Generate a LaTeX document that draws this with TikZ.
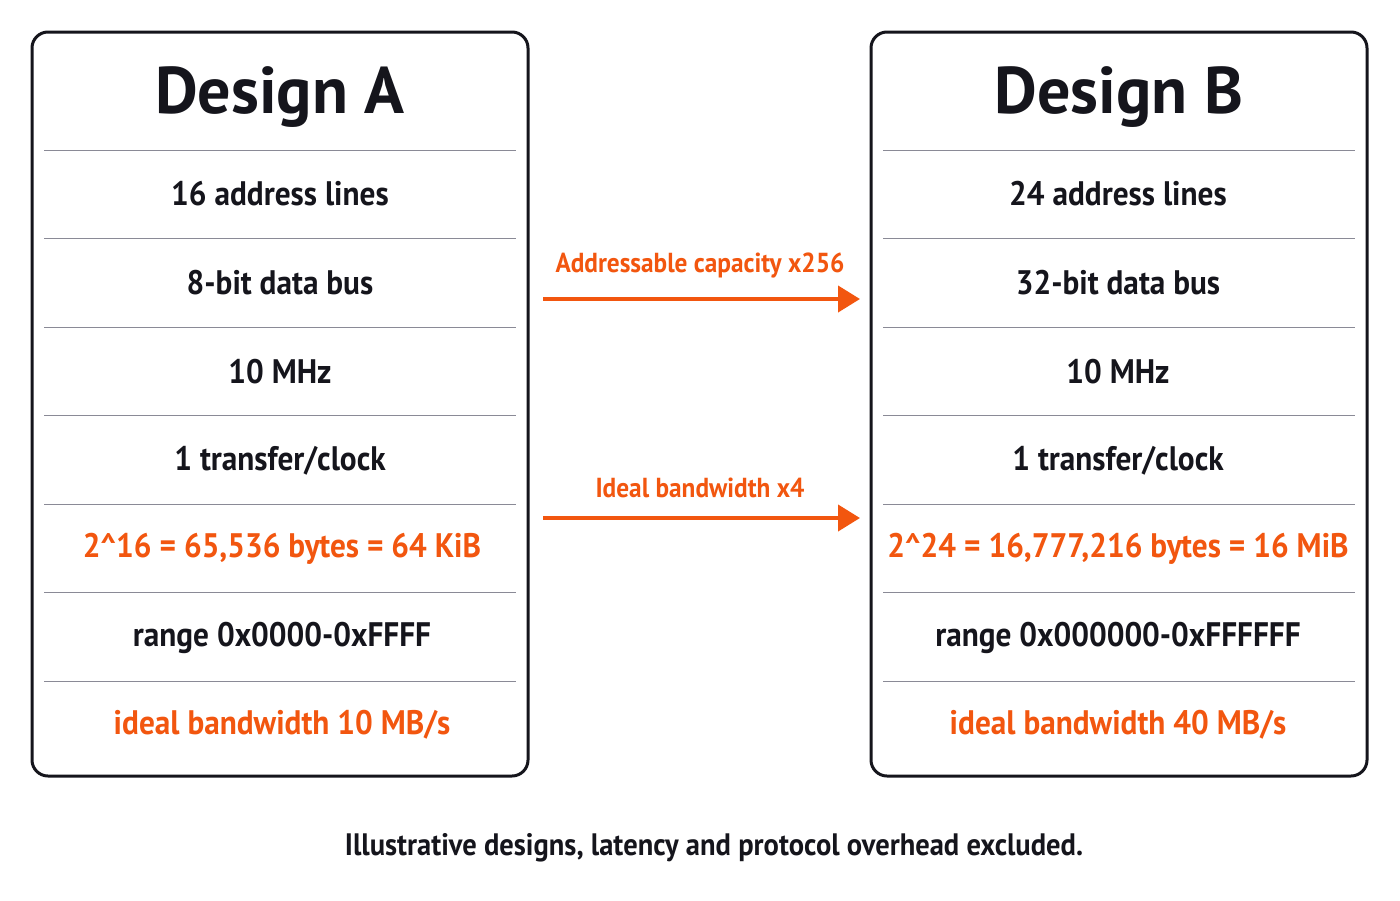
\documentclass[tikz,border=0pt]{standalone}
\usepackage{fontspec}
\setmainfont{PT Sans}
\newfontfamily\cnd{PT Sans}[FakeStretch=0.92]
\usetikzlibrary{arrows.meta}
\definecolor{org}{HTML}{F2560F}
\definecolor{sep}{HTML}{8A8A96}
\definecolor{ink}{HTML}{15151C}
\begin{document}
\begin{tikzpicture}[x=1pt,y=-1pt,
  box/.style={draw=ink,line width=3pt,rounded corners=16pt},
  title/.style={font=\fontsize{66}{70}\selectfont\bfseries,text=ink},
  row/.style={font=\cnd\fontsize{34}{38}\selectfont\bfseries,text=ink},
  hl/.style={row,text=org},
  sepl/.style={draw=sep,line width=1pt},
  arr/.style={draw=org,line width=4pt,-{Triangle[length=22pt,width=26pt]}},
  alab/.style={font=\cnd\fontsize{27.5}{30}\selectfont\bfseries,text=org}]
\useasboundingbox[fill=white] (0,0) rectangle (1400,900);
\foreach \s/\x in {A/32,B/871}{
  \draw[box] (\x,32) rectangle (\x+496,776);
  \foreach \y in {150,238,327,415,504,592,681}
    \draw[sepl] (\x+12,\y) -- (\x+484,\y);
}
\node[title] (ta) at (280,97) {Design A};
\node[title] (tb) at (1119,97) {Design B};
\node[row] (a1) at (280,194) {16 address lines};
\node[row] (a2) at (280,283) {8-bit data bus};
\node[row] (a3) at (280,372) {10 MHz};
\node[row] (a4) at (280,461) {1 transfer/clock};
\node[hl] (a5) at (282,549) {2\^{}16 = 65,536 bytes = 64 KiB};
\node[row] (a6) at (282,638) {range 0x0000-0xFFFF};
\node[hl] (a7) at (282,725) {ideal bandwidth 10 MB/s};
\node[row] (b1) at (1118,194) {24 address lines};
\node[row] (b2) at (1118,283) {32-bit data bus};
\node[row] (b3) at (1118,372) {10 MHz};
\node[row] (b4) at (1118,461) {1 transfer/clock};
\node[hl] (b5) at (1118,549) {2\^{}24 = 16,777,216 bytes = 16 MiB};
\node[row] (b6) at (1118,638) {range 0x000000-0xFFFFFF};
\node[hl] (b7) at (1118,725) {ideal bandwidth 40 MB/s};
\coordinate (s1) at (543,299); \coordinate (e1) at (860,299);
\coordinate (s2) at (543,518); \coordinate (e2) at (860,518);
\draw[arr] (s1) -- (e1);
\draw[arr] (s2) -- (e2);
\node[alab] (l1) at (700,265) {Addressable capacity x256};
\node[alab] (l2) at (700,488) {Ideal bandwidth x4};
\node[font=\cnd\fontsize{31}{34}\selectfont\bfseries,text=ink] (cap) at (714,848) {Illustrative designs, latency and protocol overhead excluded.};
\end{tikzpicture}
\end{document}
